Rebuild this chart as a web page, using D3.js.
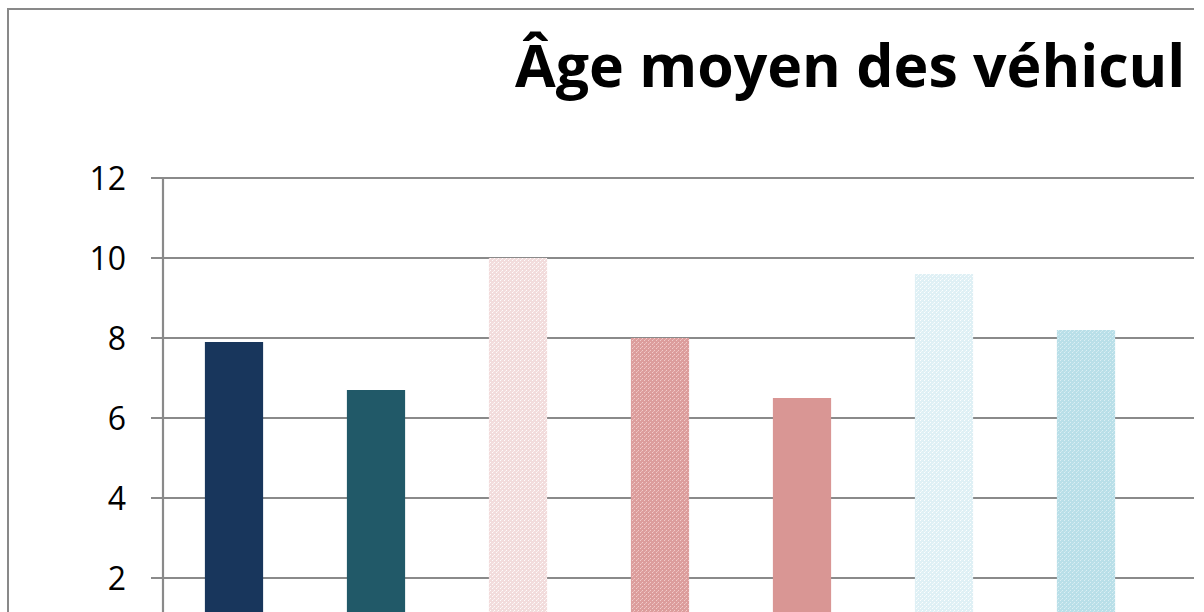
<!doctype html>
<html>
<head>
<meta charset="utf-8" />
<title>Âge moyen des véhicules</title>
<script src="https://cdn.jsdelivr.net/npm/d3@7"></script>
<style>
  html,body{margin:0;background:#fff}
  svg{display:block}
  .tick-label{font-family:"Open Sans",sans-serif;font-size:32px;fill:#000}
  .title{font-family:"Open Sans",sans-serif;font-weight:700;fill:#000}
</style>
</head>
<body>
<svg id="chart" width="1204" height="612"></svg>
<script>
// data (category names are cropped out of the image)
const categories = ['c1', 'c2', 'c3', 'c4', 'c5', 'c6', 'c7'];
const values     = [7.9, 6.7, 10.0, 8.0, 6.5, 9.6, 8.2];
const yTicks     = [2, 4, 6, 8, 10, 12];
const titleText  = 'Âge moyen des véhicul';   // the picture is cut right after this

const W = 1204, H = 612;
const clipRight = 1194;           // picture is cut here
const plot = {left: 163, top: 178, zeroY: 658, step: 142};

const svg = d3.select('#chart');

svg.append('clipPath').attr('id', 'cut')
  .append('rect').attr('x', 0).attr('y', 0).attr('width', clipRight).attr('height', H);

/* fill patterns: base colour + light speckle, like the office textures */
const defs = svg.append('defs');
function speckle(id, base, dot, opacity){
  const p = defs.append('pattern').attr('id', id)
    .attr('patternUnits', 'userSpaceOnUse').attr('width', 4).attr('height', 4);
  p.append('rect').attr('width', 4).attr('height', 4).attr('fill', base);
  p.append('rect').attr('x', 0).attr('y', 0).attr('width', 1).attr('height', 1).attr('fill', dot).attr('opacity', opacity);
  p.append('rect').attr('x', 2).attr('y', 2).attr('width', 1).attr('height', 1).attr('fill', dot).attr('opacity', opacity);
  p.append('rect').attr('x', 1).attr('y', 3).attr('width', 1).attr('height', 1).attr('fill', dot).attr('opacity', opacity*0.6);
  return `url(#${id})`;
}
const fills = [
  '#18365c',
  '#215968',
  speckle('p3', '#f2dcdc', '#ffffff', 0.9),
  speckle('p4', '#dc9d9c', '#f4d2d1', 0.9),
  '#d99694',
  speckle('p6', '#dff0f5', '#ffffff', 0.9),
  speckle('p7', '#b9dfe8', '#dff1f5', 0.9)
];

const g = svg.append('g').attr('clip-path', 'url(#cut)');

// outer chart border
g.append('rect')
  .attr('x', 8).attr('y', 9)
  .attr('width', W + 50).attr('height', H + 50)
  .attr('fill', 'none').attr('stroke', '#898989').attr('stroke-width', 2);

const x = d3.scaleBand()
  .domain(categories)
  .range([plot.left, plot.left + plot.step * categories.length])
  .paddingInner(0.59).paddingOuter(0.295);

const y = d3.scaleLinear().domain([0, 12]).range([plot.zeroY, plot.top]);

// gridlines + tick marks
g.append('g').selectAll('line')
  .data(yTicks)
  .join('line')
  .attr('x1', plot.left - 12).attr('x2', clipRight)
  .attr('y1', d => y(d)).attr('y2', d => y(d))
  .attr('stroke', '#8a8a8a').attr('stroke-width', 2.2);

// y axis line
g.append('line')
  .attr('x1', plot.left).attr('x2', plot.left)
  .attr('y1', y(12)).attr('y2', H + 10)
  .attr('stroke', '#8a8a8a').attr('stroke-width', 2.2);

// tick labels
g.append('g').selectAll('text')
  .data(yTicks)
  .join('text')
  .attr('class', 'tick-label')
  .attr('x', 126)
  .attr('y', d => y(d))
  .attr('dy', '0.36em')
  .attr('text-anchor', 'end')
  .text(d => d);

// bars
g.append('g').selectAll('rect')
  .data(values)
  .join('rect')
  .attr('x', (d, i) => x(categories[i]))
  .attr('width', x.bandwidth())
  .attr('y', d => y(d))
  .attr('height', d => y(0) - y(d))
  .attr('fill', (d, i) => fills[i]);

// title, only the part that shows in the cut picture
g.append('text')
  .attr('class', 'title')
  .attr('x', 515).attr('y', 87)
  .style('font-size', '59px')
  .text(titleText);
</script>
</body>
</html>
